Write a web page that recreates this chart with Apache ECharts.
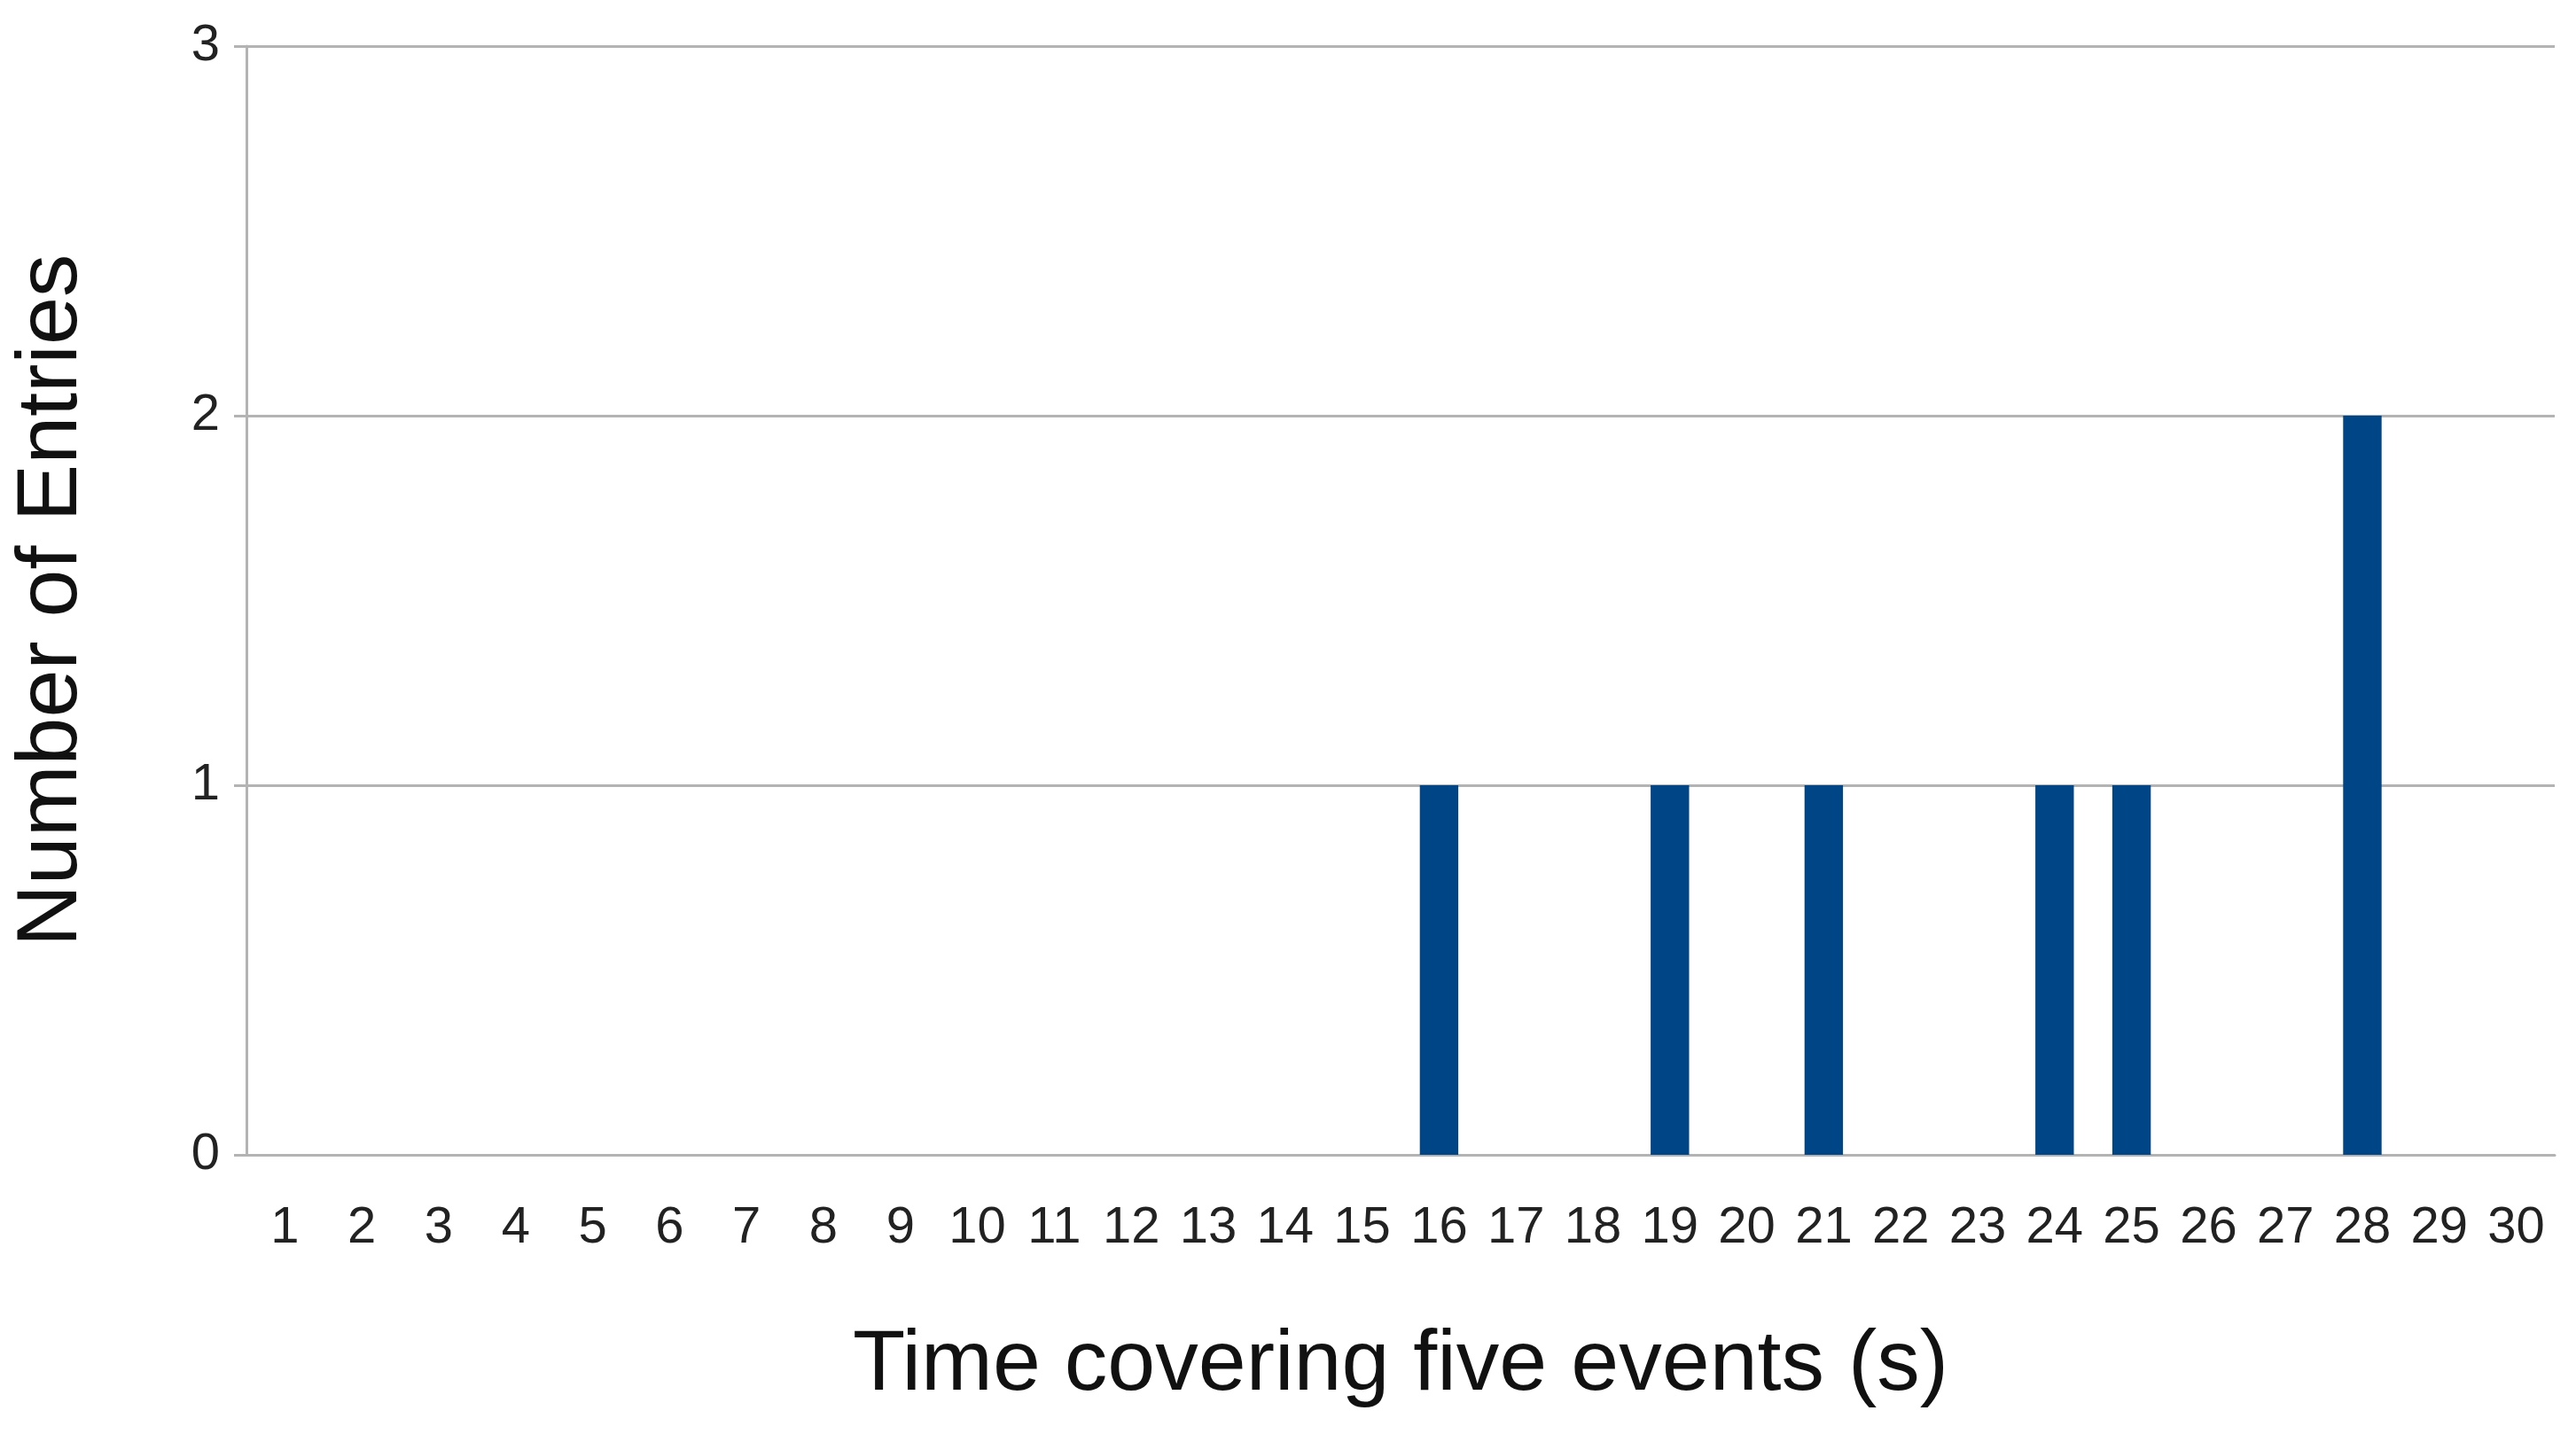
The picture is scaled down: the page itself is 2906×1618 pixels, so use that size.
<!DOCTYPE html>
<html>
<head>
<meta charset="utf-8">
<script src="https://cdn.jsdelivr.net/npm/echarts@6/dist/echarts.min.js"></script>
<style>html,body{margin:0;padding:0;background:#fff}#chart{width:2906px;height:1618px}</style>
</head>
<body>
<div id="chart"></div>
<script>
// categories 1..30 (seconds)
var categories = ['1','2','3','4','5','6','7','8','9','10','11','12','13','14','15',
    '16','17','18','19','20','21','22','23','24','25','26','27','28','29','30'];
// number of entries per bin
var entries = [0,0,0,0,0,0,0,0,0,0,0,0,0,0,0,
    1,0,0,1,0,1,0,0,1,1,0,0,2,0,0];

var myChart = echarts.init(document.getElementById('chart'));
var option = {
    animation: false,
    textStyle: {fontFamily: 'Liberation Sans'},
    grid: {left: 278, right: 24, top: 52, bottom: 315},
    xAxis: {
        type: 'category',
        data: categories,
        name: 'Time covering five events (s)',
        nameLocation: 'middle',
        nameGap: 190,
        nameTextStyle: {fontSize: 97, color: '#111'},
        axisLine: {lineStyle: {color: '#b3b3b3', width: 3}},
        axisTick: {length: 28, lineStyle: {color: '#b3b3b3', width: 3}},
        axisLabel: {fontSize: 58, color: '#222', margin: 54, interval: 0}
    },
    yAxis: {
        type: 'value',
        min: 0, max: 3, interval: 1,
        name: 'Number of Entries',
        nameLocation: 'middle',
        nameGap: 170,
        nameTextStyle: {fontSize: 97, color: '#111'},
        axisLine: {show: true, lineStyle: {color: '#b3b3b3', width: 3}},
        axisTick: {show: true, length: 14, lineStyle: {color: '#b3b3b3', width: 3}},
        axisLabel: {fontSize: 58, color: '#222', margin: 30},
        splitLine: {lineStyle: {color: '#b3b3b3', width: 3}}
    },
    series: [{
        type: 'bar',
        data: entries,
        barWidth: '50%',
        itemStyle: {color: '#004586'}
    }]
};
myChart.setOption(option);
</script>
</body>
</html>
